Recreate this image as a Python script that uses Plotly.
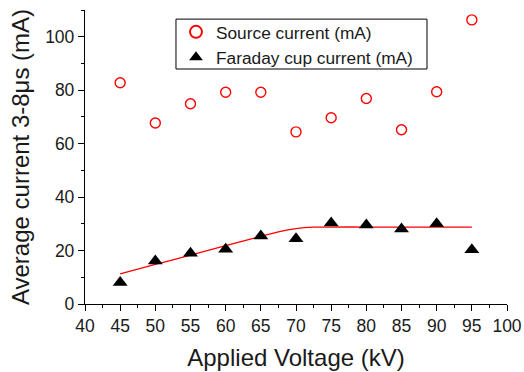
import plotly.graph_objects as go

voltage = [45, 50, 55, 60, 65, 70, 75, 80, 85, 90, 95]
source_current = [82.8, 67.7, 74.9, 79.2, 79.2, 64.4, 69.7, 76.9, 65.2, 79.4, 106.3]
faraday_current = [8.0, 16.1, 19.0, 20.5, 25.4, 24.4, 30.3, 29.6, 28.1, 30.0, 20.3]
fit_x = [45, 50, 55, 60, 65, 67.5, 70, 72.5, 75, 80, 85, 90, 95]
fit_y = [11.3, 14.8, 18.3, 21.8, 25.3, 27.0, 28.2, 28.75, 28.8, 28.8, 28.8, 28.8, 28.8]

FONT = "Arial, Liberation Sans, sans-serif"
TXT = "#1a1a1a"

fig = go.Figure()
fig.add_trace(go.Scatter(
    x=fit_x, y=fit_y, mode="lines", line=dict(color="red", width=1.3, shape="spline", smoothing=0.6),
    showlegend=False, hoverinfo="skip"))
fig.add_trace(go.Scatter(
    x=voltage, y=source_current, mode="markers", name="Source current (mA)",
    marker=dict(symbol="circle-open", size=10, color="red", line=dict(width=1.4, color="red"))))
fig.add_trace(go.Scatter(
    x=voltage, y=faraday_current, mode="markers", name="Faraday cup current (mA)",
    marker=dict(symbol="triangle-up", size=13, color="black")))

axis_common = dict(
    showline=True, linecolor="black", linewidth=1.3, ticks="outside", ticklen=6, tickwidth=1.3,
    tickcolor="black", showgrid=False, zeroline=False, mirror=False, automargin=False,
    tickfont=dict(family=FONT, size=17.5, color=TXT),
)

fig.update_xaxes(
    range=[40, 100], tick0=40, dtick=5, **axis_common,
    minor=dict(ticks="outside", ticklen=3, dtick=2.5, tickcolor="black", tickwidth=1.2),
    title=dict(text="Applied Voltage (kV)", font=dict(family=FONT, size=24, color=TXT), standoff=14),
)
fig.update_yaxes(
    range=[0, 110], tick0=0, dtick=20, **axis_common,
    minor=dict(ticks="outside", ticklen=3, dtick=10, tickcolor="black", tickwidth=1.2),
    title=dict(text="Average current 3-8μs (mA)", font=dict(family=FONT, size=24, color=TXT), standoff=8),
)

# legend frame drawn as a shape so its padding matches the reference
fig.add_shape(type="rect", xref="paper", yref="paper",
              x0=0.2156, x1=0.8104, y0=0.7993, y1=0.969,
              line=dict(color="black", width=1), fillcolor="white", layer="below")

fig.update_layout(
    width=524, height=372,
    margin=dict(l=85, r=17, t=10, b=68),
    plot_bgcolor="white", paper_bgcolor="white",
    font=dict(family=FONT, color=TXT),
    legend=dict(
        x=0.2156, y=0.986, xanchor="left", yanchor="top",
        borderwidth=0, bgcolor="rgba(0,0,0,0)",
        font=dict(family=FONT, size=17.3, color=TXT),
        itemsizing="constant", tracegroupgap=0,
    ),
)

fig.write_html("out.html", config={"displayModeBar": False},
               post_script="document.body.style.margin='0';document.body.style.overflow='hidden';")
